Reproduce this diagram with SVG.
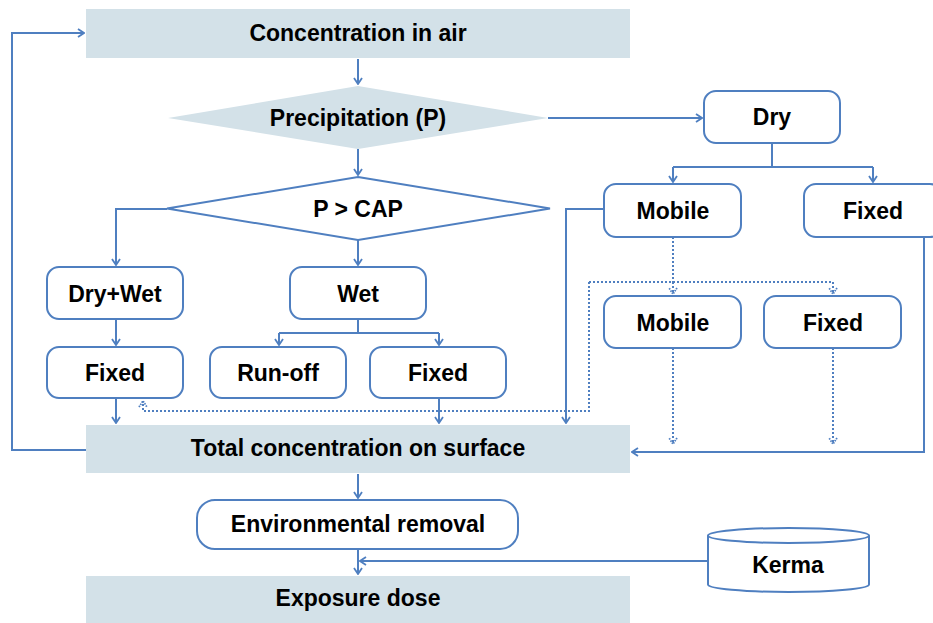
<svg xmlns="http://www.w3.org/2000/svg" width="933" height="623" viewBox="0 0 933 623">
<defs>
<style>
.t{font-family:"Liberation Sans",Arial,sans-serif;font-weight:bold;font-size:23px;fill:#000;text-anchor:middle}
.band{fill:#d3e1e8}
.box{fill:#fff;stroke:#4f7fc0;stroke-width:2}
.c{fill:none;stroke:#4f7fc0;stroke-width:2}
.d{fill:none;stroke:#4f7fc0;stroke-width:2;stroke-dasharray:2,2}
</style>
<marker id="a" viewBox="0 0 8 10" refX="7" refY="5" markerWidth="8" markerHeight="10" markerUnits="userSpaceOnUse" orient="auto">
<path d="M1,1 L7,5 L1,9" fill="none" stroke="#4f7fc0" stroke-width="1.8"/>
</marker>
<marker id="ad" viewBox="0 0 8 10" refX="7" refY="5" markerWidth="8" markerHeight="10" markerUnits="userSpaceOnUse" orient="auto">
<path d="M1,1 L7,5 L1,9" fill="none" stroke="#4f7fc0" stroke-width="1.8" stroke-dasharray="1.5,1"/>
</marker>
</defs>
<rect width="933" height="623" fill="#fff"/>

<g id="connectors">
<path class="c" d="M86,450 H12 V33 H84" marker-end="url(#a)"/>
<path class="c" d="M358,59 V84" marker-end="url(#a)"/>
<path class="c" d="M548,118 H702" marker-end="url(#a)"/>
<path class="c" d="M358,149 V175" marker-end="url(#a)"/>
<path class="c" d="M167,209 H116 V265" marker-end="url(#a)"/>
<path class="c" d="M358,240 V265" marker-end="url(#a)"/>
<path class="c" d="M116,319 V345" marker-end="url(#a)"/>
<path class="c" d="M116,398 V423" marker-end="url(#a)"/>
<path class="c" d="M358,319 V333"/>
<path class="c" d="M279,333 H439"/>
<path class="c" d="M279,333 V345" marker-end="url(#a)"/>
<path class="c" d="M439,333 V345" marker-end="url(#a)"/>
<path class="c" d="M439,398 V423" marker-end="url(#a)"/>
<path class="c" d="M772,143 V167"/>
<path class="c" d="M673,167 H873"/>
<path class="c" d="M673,167 V182" marker-end="url(#a)"/>
<path class="c" d="M873,167 V182" marker-end="url(#a)"/>
<path class="c" d="M604,209 H566 V423" marker-end="url(#a)"/>
<path class="c" d="M924,237 V452 H632" marker-end="url(#a)"/>
<path class="d" d="M673,237 V282"/>
<path class="d" d="M589,282 H833"/>
<path class="d" d="M673,282 V294" marker-end="url(#ad)"/>
<path class="d" d="M833,282 V294" marker-end="url(#ad)"/>
<path class="d" d="M589,282 V411 H143 V401" marker-end="url(#ad)"/>
<path class="d" d="M673,348 V444" marker-end="url(#ad)"/>
<path class="d" d="M833,348 V444" marker-end="url(#ad)"/>
<path class="c" d="M358,474 V498" marker-end="url(#a)"/>
<path class="c" d="M358,549 V574" marker-end="url(#a)"/>
<path class="c" d="M708,561 H360" marker-end="url(#a)"/>
</g>

<g id="n-air"><rect class="band" x="86" y="9" width="544" height="49"/><text class="t" x="358" y="41">Concentration in air</text></g>
<g id="n-precip"><polygon class="band" points="358,86 548,118 358,149 168,118"/><text class="t" x="358" y="126">Precipitation (P)</text></g>
<g id="n-cap"><polygon class="box" points="358,177 550,208.5 358,240 167,208.5"/><text class="t" x="358" y="217">P &gt; CAP</text></g>
<g id="n-drywet"><rect class="box" x="47" y="267" width="136" height="52" rx="12"/><text class="t" x="115" y="302">Dry+Wet</text></g>
<g id="n-fixed1"><rect class="box" x="47" y="347" width="136" height="51" rx="12"/><text class="t" x="115" y="381">Fixed</text></g>
<g id="n-wet"><rect class="box" x="290" y="267" width="136" height="52" rx="12"/><text class="t" x="358" y="302">Wet</text></g>
<g id="n-runoff"><rect class="box" x="210" y="347" width="136" height="51" rx="12"/><text class="t" x="278" y="381">Run-off</text></g>
<g id="n-fixed2"><rect class="box" x="370" y="347" width="136" height="51" rx="12"/><text class="t" x="438" y="381">Fixed</text></g>
<g id="n-dry"><rect class="box" x="704" y="91" width="136" height="52" rx="12"/><text class="t" x="772" y="125">Dry</text></g>
<g id="n-mobile1"><rect class="box" x="604" y="184" width="137" height="53" rx="12"/><text class="t" x="673" y="219">Mobile</text></g>
<g id="n-fixed3"><rect class="box" x="804" y="184" width="138" height="53" rx="12"/><text class="t" x="873" y="219">Fixed</text></g>
<g id="n-mobile2"><rect class="box" x="604" y="296" width="137" height="52" rx="12"/><text class="t" x="673" y="331">Mobile</text></g>
<g id="n-fixed4"><rect class="box" x="764" y="296" width="137" height="52" rx="12"/><text class="t" x="833" y="331">Fixed</text></g>
<g id="n-total"><rect class="band" x="86" y="425" width="544" height="48"/><text class="t" x="358" y="456">Total concentration on surface</text></g>
<g id="n-env"><rect class="box" x="197" y="500" width="321" height="49" rx="18"/><text class="t" x="358" y="532">Environmental removal</text></g>
<g id="n-kerma">
<path class="box" d="M708,535.5 V584.5 A80.5,7.5 0 0 0 869,584.5 V535.5"/>
<ellipse class="box" cx="788.5" cy="535.5" rx="80.5" ry="7.5"/>
<text class="t" x="788" y="573">Kerma</text>
</g>
<g id="n-exposure"><rect class="band" x="86" y="576" width="544" height="47"/><text class="t" x="358" y="606">Exposure dose</text></g>
</svg>
